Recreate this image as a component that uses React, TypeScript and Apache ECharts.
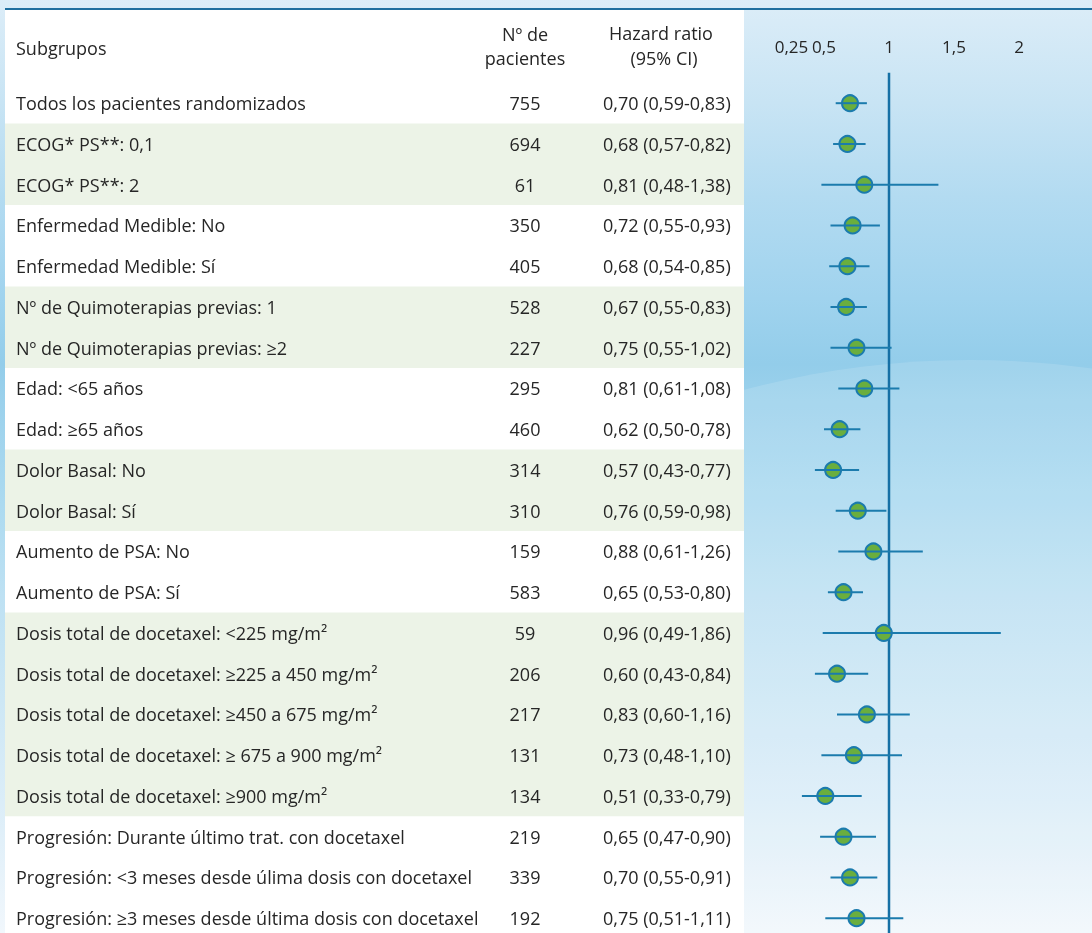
import React, { useEffect, useRef } from "react";
import * as echarts from "echarts";

// ---- data ----
const subgroups = [
  "Todos los pacientes randomizados",
  "ECOG* PS**: 0,1",
  "ECOG* PS**: 2",
  "Enfermedad Medible: No",
  "Enfermedad Medible: Sí",
  "Nº de Quimoterapias previas: 1",
  "Nº de Quimoterapias previas: ≥2",
  "Edad: <65 años",
  "Edad: ≥65 años",
  "Dolor Basal: No",
  "Dolor Basal: Sí",
  "Aumento de PSA: No",
  "Aumento de PSA: Sí",
  "Dosis total de docetaxel: <225 mg/m²",
  "Dosis total de docetaxel: ≥225 a 450 mg/m²",
  "Dosis total de docetaxel: ≥450 a 675 mg/m²",
  "Dosis total de docetaxel: ≥ 675 a 900 mg/m²",
  "Dosis total de docetaxel: ≥900 mg/m²",
  "Progresión: Durante último trat. con docetaxel",
  "Progresión: <3 meses desde úlima dosis con docetaxel",
  "Progresión: ≥3 meses desde última dosis con docetaxel",
];
const patients = [755, 694, 61, 350, 405, 528, 227, 295, 460, 314, 310, 159, 583, 59, 206, 217, 131, 134, 219, 339, 192];
const hazardRatio = [0.70, 0.68, 0.81, 0.72, 0.68, 0.67, 0.75, 0.81, 0.62, 0.57, 0.76, 0.88, 0.65, 0.96, 0.60, 0.83, 0.73, 0.51, 0.65, 0.70, 0.75];
const ciLower = [0.59, 0.57, 0.48, 0.55, 0.54, 0.55, 0.55, 0.61, 0.50, 0.43, 0.59, 0.61, 0.53, 0.49, 0.43, 0.60, 0.48, 0.33, 0.47, 0.55, 0.51];
const ciUpper = [0.83, 0.82, 1.38, 0.93, 0.85, 0.83, 1.02, 1.08, 0.78, 0.77, 0.98, 1.26, 0.80, 1.86, 0.84, 1.16, 1.10, 0.79, 0.90, 0.91, 1.11];
// groups of rows drawn on a tinted band (first row, last row)
const shadedRows = [
  [1, 2],
  [5, 6],
  [9, 10],
  [13, 17],
];
const axisTickValues = [0.25, 0.5, 1, 1.5, 2];
const referenceHR = 1;

// ---- layout ----
const W = 1092;
const H = 933;
const FONT = '"Open Sans", "Noto Sans", sans-serif';
const TEXT = "#262626";
const FS = 18;
const ROW0 = 103.2;
const ROW_H = 40.75;
const Y_MIN = -0.75;
const Y_MAX = subgroups.length - 0.5;
const GRID_TOP = ROW0 + Y_MIN * ROW_H;
const GRID_H = (Y_MAX - Y_MIN) * ROW_H;
const TABLE_LEFT = 5;
const TABLE_RIGHT = 744;
const COL_NAME = 16;
const COL_N = 525;
const COL_HR = 603;
const X_MIN = 0;
const X_MAX = 2.5;
const FOREST_LEFT = 759;
const FOREST_W = 325;

const BLUE = "#1b7bad";
const GREEN = "#6aae3e";

const dec = (v: number) => v.toFixed(2).replace(".", ",");
const hrLabel = (i: number) => `${dec(hazardRatio[i])} (${dec(ciLower[i])}-${dec(ciUpper[i])})`;

const txt = (text: string, x: number, y: number, align: string, size = FS) => ({
  type: "text",
  x,
  y,
  style: {
    text,
    font: `${size}px ${FONT}`,
    fill: TEXT,
    align,
    textAlign: align,
    verticalAlign: "middle",
    textVerticalAlign: "middle",
  },
});

export default function App() {
  const ref = useRef<HTMLDivElement>(null);

  useEffect(() => {
    if (!ref.current) return;
    const chart = echarts.init(ref.current, undefined, { renderer: "svg" });

    const option: any = {
      animation: false,
      graphic: [
        {
          type: "rect",
          z: -100,
          silent: true,
          shape: { x: 0, y: 0, width: W, height: H },
          style: {
            fill: new echarts.graphic.LinearGradient(0, 0, 0, 1, [
              { offset: 0, color: "#dcedf8" },
              { offset: 0.11, color: "#c8e4f4" },
              { offset: 0.21, color: "#b3dbf1" },
              { offset: 0.32, color: "#a0d3ee" },
              { offset: 0.39, color: "#93cdea" },
              { offset: 0.43, color: "#9bd1ec" },
              { offset: 0.54, color: "#acdaf0" },
              { offset: 0.64, color: "#bee1f3" },
              { offset: 0.75, color: "#cde7f5" },
              { offset: 0.86, color: "#dbedf8" },
              { offset: 1, color: "#f1f7fc" },
            ]),
          },
        },
        {
          type: "ellipse",
          z: -99,
          silent: true,
          shape: { cx: 970, cy: 1300, rx: 900, ry: 940 },
          style: { fill: "rgba(255,255,255,0.13)" },
        },
        {
          type: "rect",
          z: -98,
          silent: true,
          shape: { x: TABLE_LEFT, y: 10, width: TABLE_RIGHT - TABLE_LEFT, height: H - 10 },
          style: { fill: "#ffffff" },
        },
        {
          type: "line",
          z: -97,
          silent: true,
          shape: { x1: TABLE_LEFT, y1: 9, x2: W, y2: 9 },
          style: { stroke: "#1f6f9f", lineWidth: 2 },
        },
        { ...txt("Subgrupos", COL_NAME, 48, "left"), z: 10 },
        { ...txt("Nº de", COL_N, 34, "center"), z: 10 },
        { ...txt("pacientes", COL_N, 58, "center"), z: 10 },
        { ...txt("Hazard ratio", 661, 33, "center"), z: 10 },
        { ...txt("(95% CI)", 664, 58, "center"), z: 10 },
      ],
      grid: [
        {
          left: TABLE_LEFT,
          width: TABLE_RIGHT - TABLE_LEFT,
          top: GRID_TOP,
          height: GRID_H,
          outerBoundsMode: "none",
        },
        {
          left: FOREST_LEFT,
          width: FOREST_W,
          top: GRID_TOP,
          height: GRID_H,
          outerBoundsMode: "none",
        },
      ],
      xAxis: [
        { gridIndex: 0, type: "value", min: 0, max: 1, show: false },
        {
          gridIndex: 1,
          type: "value",
          position: "top",
          min: X_MIN,
          max: X_MAX,
          interval: 0.25,
          axisLine: { show: false },
          axisTick: { show: false },
          splitLine: { show: false },
          axisLabel: {
            margin: 18,
            fontSize: 17,
            fontFamily: FONT,
            color: TEXT,
            formatter: (v: number) =>
              axisTickValues.some((t) => Math.abs(t - v) < 1e-6) ? String(v).replace(".", ",") : "",
          },
        },
      ],
      yAxis: [
        { gridIndex: 0, type: "value", inverse: true, min: Y_MIN, max: Y_MAX, show: false },
        { gridIndex: 1, type: "value", inverse: true, min: Y_MIN, max: Y_MAX, show: false },
      ],
      series: [
        // tinted row bands
        {
          type: "custom",
          xAxisIndex: 0,
          yAxisIndex: 0,
          z: 1,
          silent: true,
          data: shadedRows,
          encode: { y: [0, 1] },
          renderItem: (_p: any, api: any) => {
            const a = api.coord([0, api.value(0) - 0.5]);
            const b = api.coord([1, api.value(1) + 0.5]);
            return {
              type: "rect",
              shape: { x: a[0], y: a[1], width: b[0] - a[0], height: b[1] - a[1] },
              style: { fill: "#ecf3e7" },
            };
          },
        },
        // table text
        {
          type: "custom",
          xAxisIndex: 0,
          yAxisIndex: 0,
          z: 3,
          silent: true,
          data: subgroups.map((_, i) => [0, i]),
          encode: { x: 0, y: 1 },
          renderItem: (_p: any, api: any) => {
            const i = api.value(1);
            const y = api.coord([0, i])[1];
            return {
              type: "group",
              children: [
                txt(subgroups[i], COL_NAME, y, "left"),
                txt(String(patients[i]), COL_N, y, "center"),
                txt(hrLabel(i), COL_HR, y, "left"),
              ],
            };
          },
        },
        // line of no effect
        {
          type: "line",
          xAxisIndex: 1,
          yAxisIndex: 1,
          z: 2,
          symbol: "none",
          silent: true,
          data: [
            [referenceHR, Y_MIN],
            [referenceHR, Y_MAX],
          ],
          lineStyle: { color: "#1670a5", width: 2.5 },
        },
        // point estimates
        {
          type: "scatter",
          xAxisIndex: 1,
          yAxisIndex: 1,
          z: 3,
          symbol: "circle",
          symbolSize: 16,
          data: hazardRatio.map((v, i) => [v, i]),
          itemStyle: { color: GREEN, borderColor: BLUE, borderWidth: 2, opacity: 1 },
        },
        // confidence intervals
        {
          type: "custom",
          xAxisIndex: 1,
          yAxisIndex: 1,
          z: 4,
          silent: true,
          data: hazardRatio.map((_, i) => [ciLower[i], ciUpper[i], i]),
          encode: { x: [0, 1], y: 2 },
          renderItem: (_p: any, api: any) => {
            const y = api.value(2);
            const a = api.coord([api.value(0), y]);
            const b = api.coord([api.value(1), y]);
            return {
              type: "line",
              shape: { x1: a[0], y1: a[1], x2: b[0], y2: b[1] },
              style: { stroke: BLUE, lineWidth: 2 },
            };
          },
        },
      ],
    };

    chart.setOption(option);
    return () => chart.dispose();
  }, []);

  return (
    <div
      ref={ref}
      style={{ position: "fixed", left: 0, top: 0, width: W, height: H }}
    />
  );
}
